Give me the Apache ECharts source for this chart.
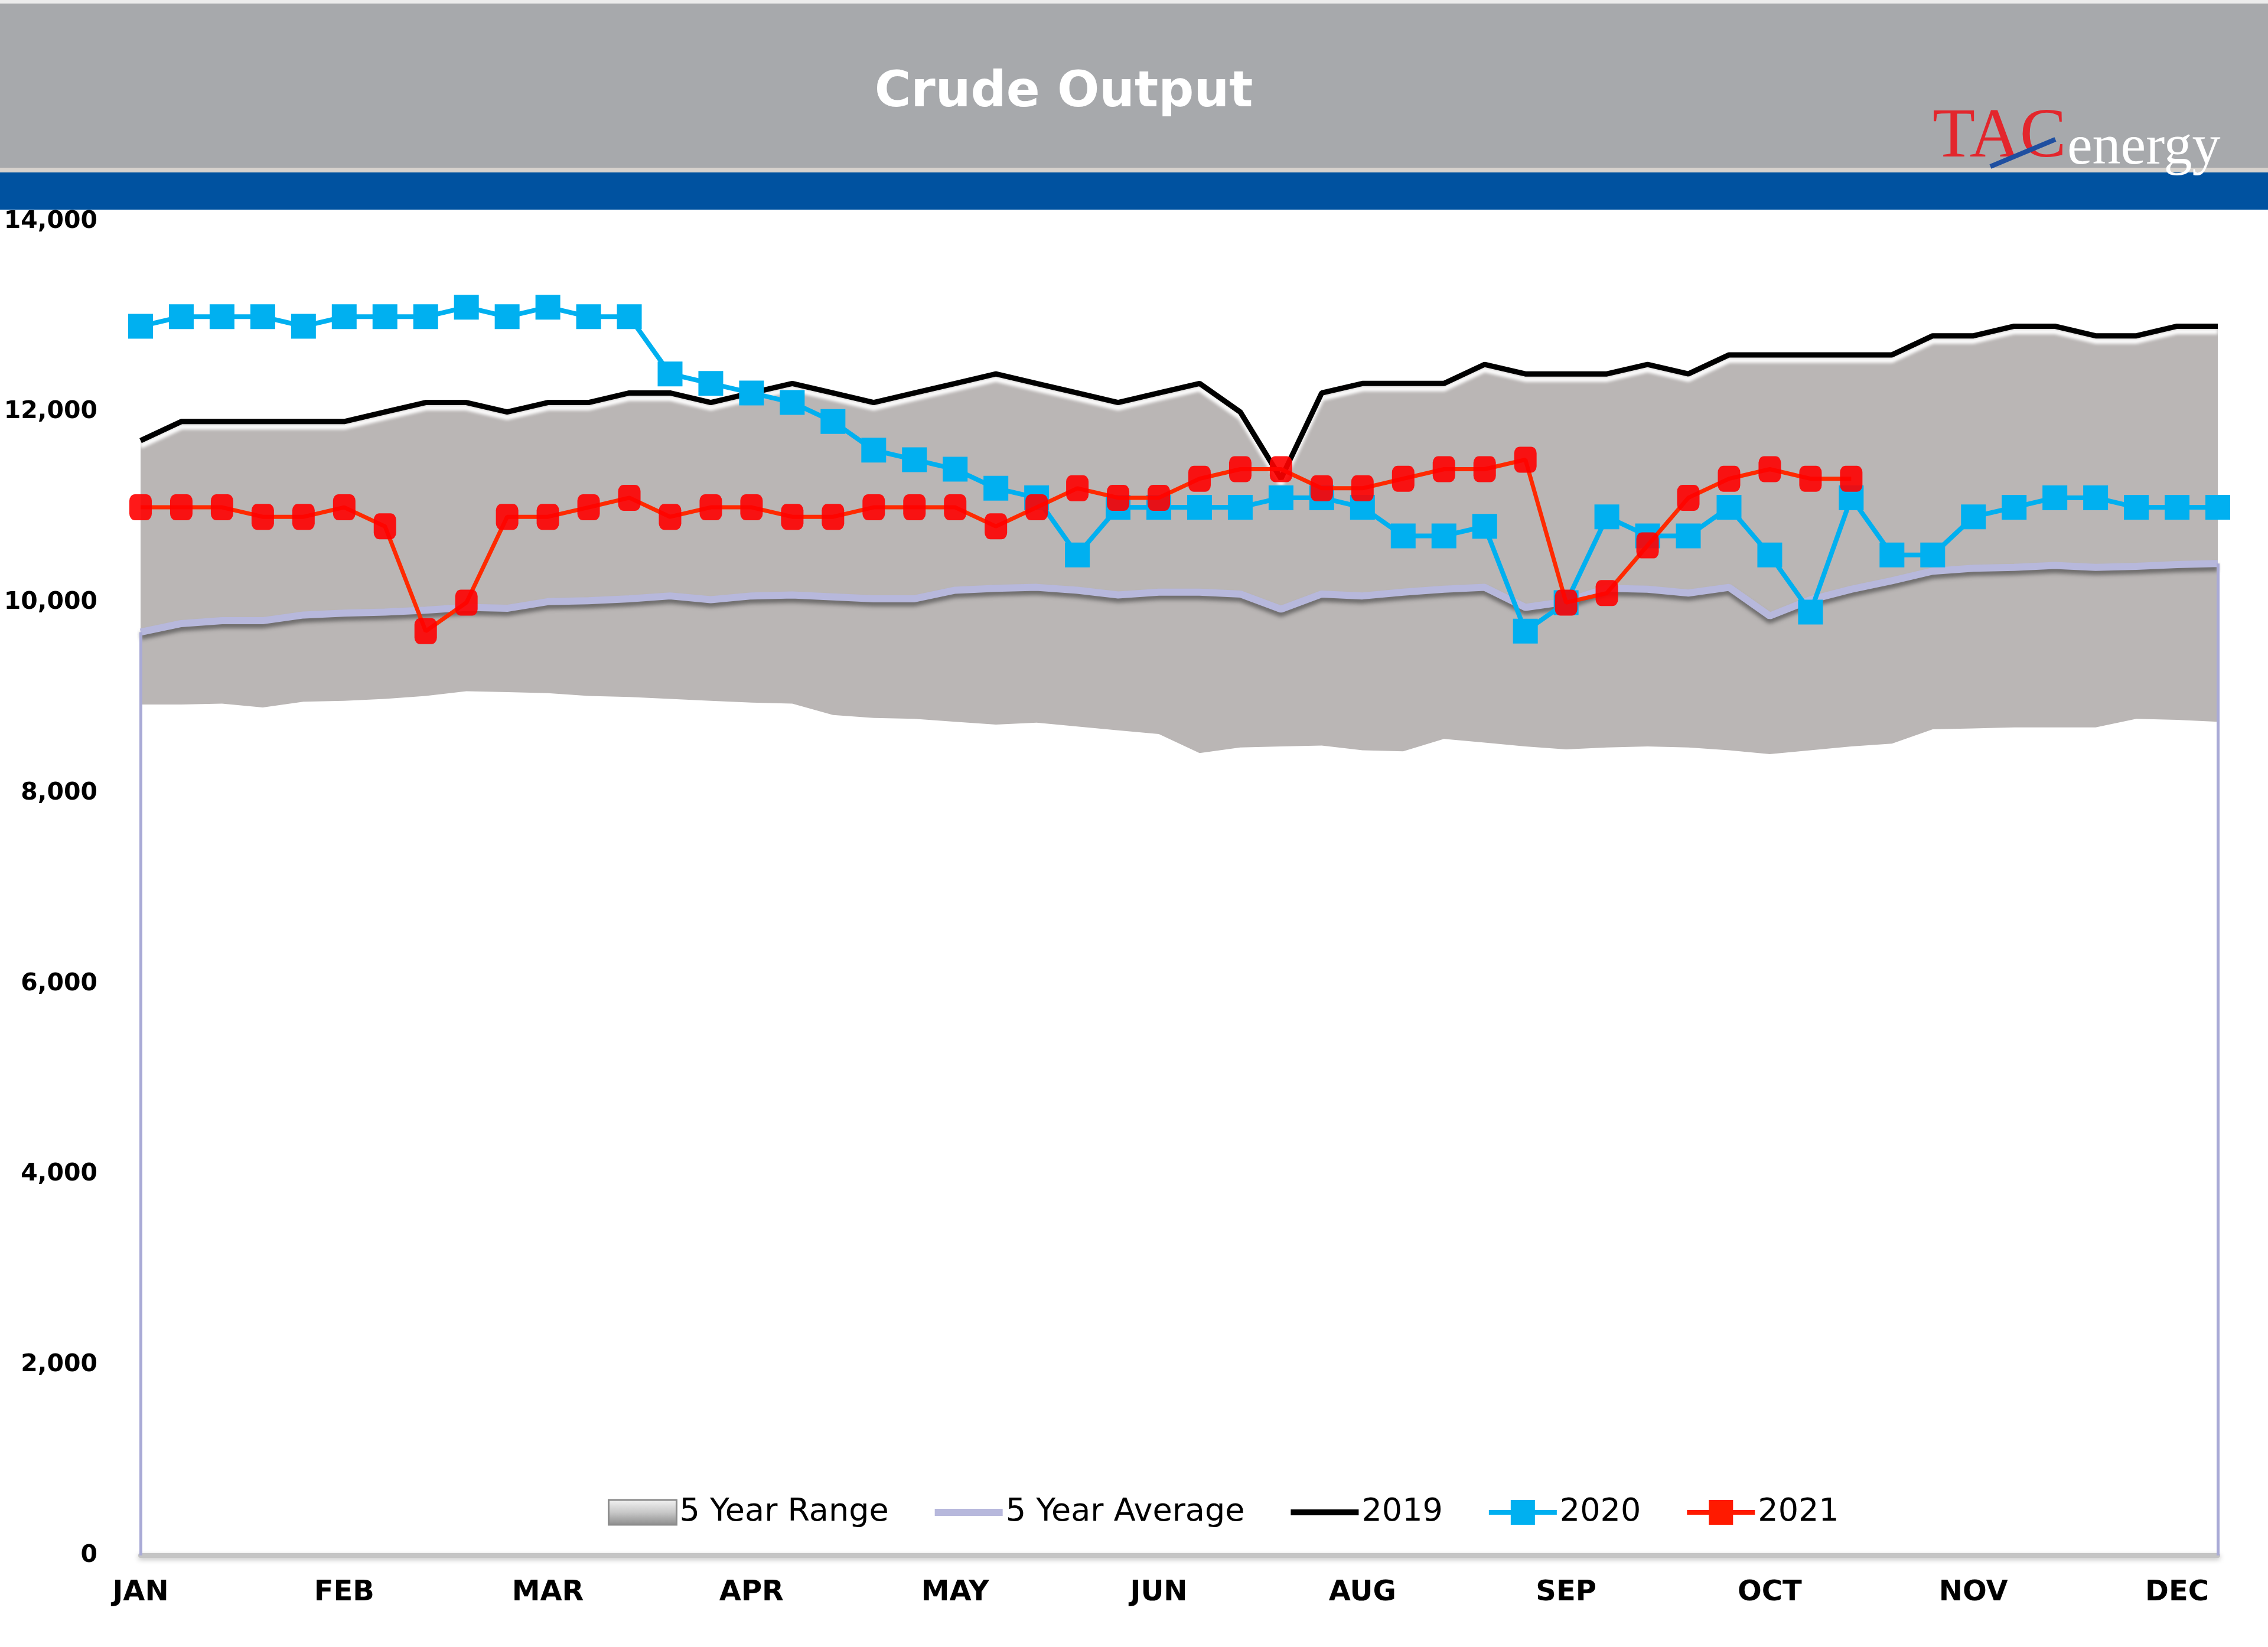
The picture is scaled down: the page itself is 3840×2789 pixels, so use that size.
<!DOCTYPE html>
<html>
<head>
<meta charset="utf-8">
<title>Crude Output</title>
<script src="https://cdn.jsdelivr.net/npm/echarts@6/dist/echarts.min.js"></script>
<style>
  html, body { margin: 0; padding: 0; background: #ffffff; }
  #chart { width: 3840px; height: 2789px; }
</style>
</head>
<body>
<div id="chart"></div>
<script>
// ---- Data (barrels/day, thousands x 1000) ----
const weeks = ['W1','W2','W3','W4','W5','W6','W7','W8','W9','W10','W11','W12','W13','W14','W15','W16','W17','W18','W19','W20','W21','W22','W23','W24','W25','W26','W27','W28','W29','W30','W31','W32','W33','W34','W35','W36','W37','W38','W39','W40','W41','W42','W43','W44','W45','W46','W47','W48','W49','W50','W51','W52'];
const monthTicks = ['JAN','FEB','MAR','APR','MAY','JUN','AUG','SEP','OCT','NOV','DEC'];
const yTicks = [0, 2000, 4000, 6000, 8000, 10000, 12000, 14000];

const rangeLow = [8930,8930,8940,8900,8960,8970,8990,9020,9070,9060,9050,9020,9010,8990,8970,8950,8940,8820,8790,8780,8750,8720,8740,8700,8660,8620,8420,8480,8490,8500,8450,8440,8570,8530,8490,8460,8480,8490,8480,8450,8410,8450,8490,8520,8670,8680,8690,8690,8690,8780,8770,8750];
const rangeHigh = [11700,11900,11900,11900,11900,11900,12000,12100,12100,12000,12100,12100,12200,12200,12100,12200,12300,12200,12100,12200,12300,12400,12300,12200,12100,12200,12300,12000,11300,12200,12300,12300,12300,12500,12400,12400,12400,12500,12400,12600,12600,12600,12600,12600,12800,12800,12900,12900,12800,12800,12900,12900];
const avg5 = [9690,9780,9810,9810,9870,9890,9900,9920,9950,9940,10010,10020,10040,10070,10030,10070,10080,10060,10040,10040,10130,10150,10160,10130,10080,10110,10110,10090,9930,10090,10070,10110,10140,10160,9950,10010,10150,10140,10100,10160,9860,10030,10140,10230,10330,10360,10370,10390,10370,10380,10400,10410];
const y2019 = [11700,11900,11900,11900,11900,11900,12000,12100,12100,12000,12100,12100,12200,12200,12100,12200,12300,12200,12100,12200,12300,12400,12300,12200,12100,12200,12300,12000,11300,12200,12300,12300,12300,12500,12400,12400,12400,12500,12400,12600,12600,12600,12600,12600,12800,12800,12900,12900,12800,12800,12900,12900];
const y2020 = [12900,13000,13000,13000,12900,13000,13000,13000,13100,13000,13100,13000,13000,12400,12300,12200,12100,11900,11600,11500,11400,11200,11100,10500,11000,11000,11000,11000,11100,11100,11000,10700,10700,10800,9700,10000,10900,10700,10700,11000,10500,9900,11100,10500,10500,10900,11000,11100,11100,11000,11000,11000];
const y2021 = [11000,11000,11000,10900,10900,11000,10800,9700,10000,10900,10900,11000,11100,10900,11000,11000,10900,10900,11000,11000,11000,10800,11000,11200,11100,11100,11300,11400,11400,11200,11200,11300,11400,11400,11500,10000,10100,10600,11100,11300,11400,11300,11300];

// derived band thickness for the stacked range area
const rangeBand = rangeHigh.map((h, i) => h - rangeLow[i]);

// legend icon shapes (bounding box 115 x 42)
const barIcon = 'path://M0,0 Z M115,42 Z M0,16 H115 V26 H0 Z';
const avgIcon = 'path://M0,0 Z M115,42 Z M0,15 H115 V27 H0 Z';
const plusIcon = 'path://M0,0 Z M115,42 Z M0,17 H37 V0 H78 V17 H115 V25 H78 V42 H37 V25 H0 Z';

const chart = echarts.init(document.getElementById('chart'), null, { renderer: 'canvas' });

const option = {
  animation: false,
  backgroundColor: '#ffffff',
  grid: { left: 238, right: 85, top: 375, bottom: 155, containLabel: false },
  xAxis: {
    type: 'category',
    data: weeks,
    boundaryGap: false,
    axisTick: { show: false },
    axisLine: { show: true, lineStyle: { color: '#c4c4c4', width: 8, shadowColor: 'rgba(0,0,0,0.25)', shadowBlur: 8, shadowOffsetY: 3 } },
    axisLabel: {
      interval: 4,
      margin: 40,
      color: '#000',
      fontFamily: 'DejaVu Sans',
      fontWeight: 'bold',
      fontSize: 48,
      formatter: function (v, i) { const k = i / 5; return Number.isInteger(k) && monthTicks[k] ? monthTicks[k] : ''; }
    },
    splitLine: { show: false }
  },
  yAxis: {
    type: 'value',
    min: yTicks[0],
    max: yTicks[yTicks.length - 1],
    interval: yTicks[1] - yTicks[0],
    axisLine: { show: false },
    axisTick: { show: false },
    splitLine: { show: false },
    axisLabel: {
      margin: 73,
      color: '#000',
      fontFamily: 'DejaVu Sans',
      fontWeight: 'bold',
      fontSize: 41,
      formatter: function (v) { return v.toLocaleString('en-US'); }
    }
  },
  legend: {
    left: 1029,
    top: 2534,
    itemWidth: 115,
    itemHeight: 42,
    itemGap: 78,
    padding: 0,
    textStyle: { fontFamily: 'DejaVu Sans', fontSize: 54, color: '#000' },
    data: [
      { name: '5 Year Range', icon: 'rect', itemStyle: { color: { type: 'linear', x: 0, y: 0, x2: 0, y2: 1, colorStops: [{ offset: 0, color: '#f4f4f4' }, { offset: 0.5, color: '#c8c8c8' }, { offset: 1, color: '#8a8a8a' }] }, borderColor: '#8c8c8c', borderWidth: 3 } },
      { name: '5 Year Average', icon: avgIcon, itemStyle: { color: '#b7b8dc', borderWidth: 0 } },
      { name: '2019', icon: barIcon, itemStyle: { color: '#000000', borderWidth: 0 } },
      { name: '2020', icon: plusIcon, itemStyle: { color: '#00b0f0', borderWidth: 0 } },
      { name: '2021', icon: plusIcon, itemStyle: { color: '#ff1a00', borderWidth: 0 } }
    ]
  },
  series: [
    {
      name: 'rangeBase', type: 'line', data: rangeLow, stack: 'range',
      symbol: 'none', lineStyle: { width: 0, opacity: 0 }, silent: true, z: 1
    },
    {
      name: '5 Year Range', type: 'line', data: rangeBand, stack: 'range',
      symbol: 'none', lineStyle: { width: 0, opacity: 0 },
      itemStyle: { color: '#bab6b5' },
      areaStyle: { color: '#bab6b5', opacity: 1 }, silent: true, z: 1
    },
    {
      name: '5 Year Average', type: 'line', data: avg5, symbol: 'none',
      itemStyle: { color: '#b7b8dc' },
      lineStyle: { color: '#b7b8dc', width: 12, shadowColor: 'rgba(50,50,50,0.55)', shadowBlur: 6, shadowOffsetY: 7 },
      markLine: {
        silent: true, symbol: 'none', label: { show: false },
        lineStyle: { color: '#a9aad6', width: 5, type: 'solid' },
        data: [
          [{ coord: [weeks[0], 0] }, { coord: [weeks[0], avg5[0]] }],
          [{ coord: [weeks[weeks.length - 1], 0] }, { coord: [weeks[weeks.length - 1], avg5[avg5.length - 1]] }]
        ]
      },
      z: 2
    },
    {
      name: '2019', type: 'line', data: y2019, symbol: 'none',
      itemStyle: { color: '#000000' },
      lineStyle: { color: '#000000', width: 9, shadowColor: 'rgba(255,255,255,0.95)', shadowBlur: 5, shadowOffsetY: 9 },
      z: 3
    },
    {
      name: '2020', type: 'line', data: y2020, symbol: 'rect', symbolSize: 42,
      itemStyle: { color: '#00b0f0' },
      lineStyle: { color: '#00b0f0', width: 8 },
      z: 4
    },
    {
      name: '2021', type: 'line', data: y2021, symbol: 'roundRect', symbolSize: [38, 44],
      itemStyle: { color: 'rgba(255,0,0,0.9)' },
      lineStyle: { color: '#ff2a00', width: 7 },
      z: 5
    }
  ],
  graphic: [
    { type: 'rect', left: 0, top: 0, shape: { width: 3840, height: 6 }, style: { fill: '#ececec' }, z: 100 },
    { type: 'rect', left: 0, top: 6, shape: { width: 3840, height: 282 }, style: { fill: '#a7a9ac' }, z: 100 },
    { type: 'rect', left: 0, top: 284, shape: { width: 3840, height: 8 }, style: { fill: '#d6d2cd' }, z: 100 },
    { type: 'rect', left: 0, top: 292, shape: { width: 3840, height: 63 }, style: { fill: '#0052a0' }, z: 100 },
    {
      type: 'text', x: 1801, y: 158, z: 110,
      style: {
        text: 'Crude Output', fill: '#ffffff', font: 'bold 84px "DejaVu Sans"',
        textAlign: 'center', textVerticalAlign: 'middle', verticalAlign: 'middle',
        shadowColor: 'rgba(40,40,40,0.9)', shadowBlur: 4, shadowOffsetX: 3, shadowOffsetY: 4
      }
    },
    {
      type: 'text', x: 3272, y: 293, z: 110,
      style: { text: 'TAC', fill: '#e3262c', font: '118px "Liberation Serif"', textAlign: 'left', textVerticalAlign: 'bottom', verticalAlign: 'bottom' }
    },
    {
      type: 'line', z: 111,
      shape: { x1: 3370, y1: 282, x2: 3480, y2: 236 },
      style: { stroke: '#1f4fa0', lineWidth: 8 }
    },
    {
      type: 'text', x: 3500, y: 300, z: 110,
      style: {
        text: 'energy', fill: '#ffffff', font: '96px "Liberation Serif"', textAlign: 'left', textVerticalAlign: 'bottom', verticalAlign: 'bottom',
        shadowColor: 'rgba(40,40,60,0.8)', shadowBlur: 3, shadowOffsetX: 2, shadowOffsetY: 3
      }
    }
  ]
};

chart.setOption(option);
</script>
</body>
</html>
